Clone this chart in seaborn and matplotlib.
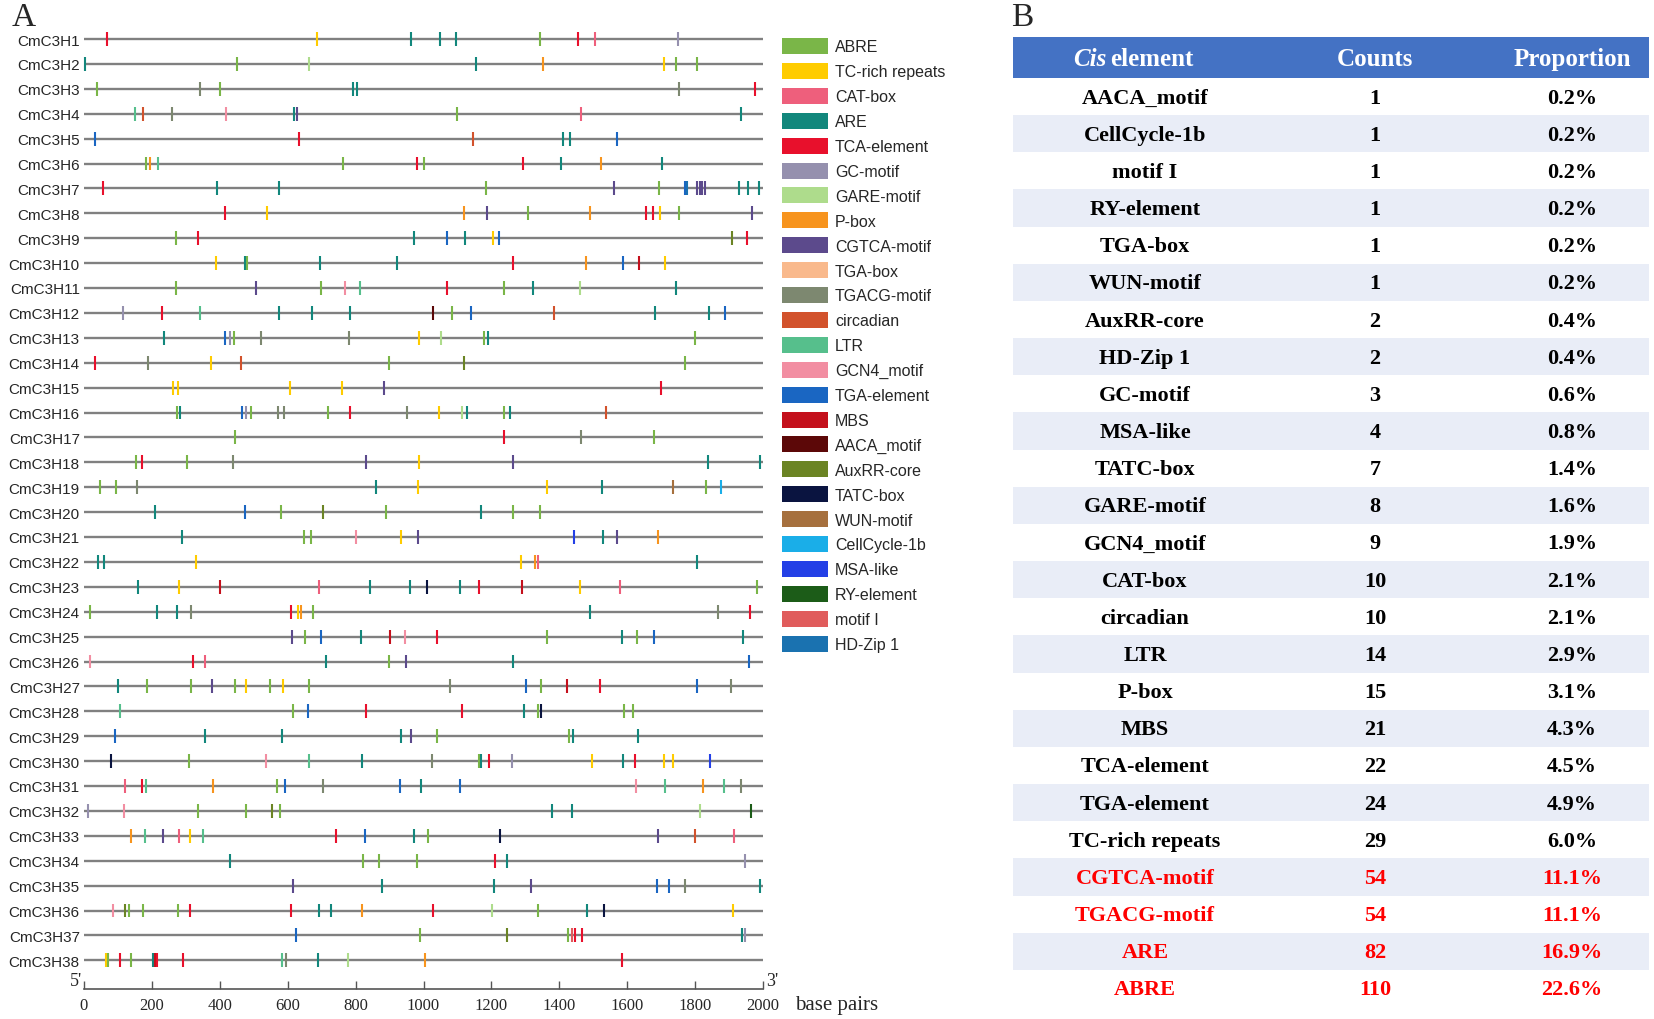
import matplotlib
matplotlib.use("Agg")
import matplotlib.pyplot as plt
from matplotlib.patches import Rectangle
import seaborn as sns
import pandas as pd

# ---------------- data ----------------
genes = [f"CmC3H{i}" for i in range(1, 39)]

H1 = [(69,'TCA'),(685,'TC'),(963,'ARE'),(1049,'ARE'),(1095,'ARE'),(1343,'AB'),(1456,'TCA'),(1505,'CAT'),(1751,'GC')]
H2 = [(3,'ARE'),(450,'AB'),(664,'GARE'),(1155,'ARE'),(1353,'PB'),(1707,'TC'),(1744,'AB'),(1805,'AB')]
H3 = [(37,'AB'),(341,'TG'),(400,'AB'),(793,'ARE'),(805,'ARE'),(1754,'TG'),(1975,'TCA')]
H4 = [(149,'LTR'),(173,'CIR'),(258,'TG'),(418,'GCN'),(619,'ARE'),(628,'CG'),(1098,'AB'),(1463,'CAT'),(1935,'ARE')]
H5 = [(32,'TGAe'),(633,'TCA'),(1147,'CIR'),(1410,'ARE'),(1431,'ARE'),(1571,'TGAe')]
H6 = [(182,'AB'),(193,'PB'),(218,'LTR'),(764,'AB'),(982,'TCA'),(1001,'AB'),(1294,'TCA'),(1404,'ARE'),(1522,'PB'),(1703,'ARE')]
H7 = [(57,'TCA'),(391,'ARE'),(573,'ARE'),(1184,'AB'),(1562,'CG'),(1693,'AB'),(1770,'TGAe'),(1776,'HD'),(1805,'CG'),(1813,'CG'),(1821,'CG'),(1829,'CG'),(1928,'ARE'),(1955,'ARE'),(1988,'ARE')]
H8 = [(414,'TCA'),(538,'TC'),(1118,'PB'),(1186,'CG'),(1307,'AB'),(1490,'PB'),(1654,'TCA'),(1675,'TCA'),(1697,'TC'),(1753,'AB'),(1968,'CG')]
H9 = [(272,'AB'),(335,'TCA'),(973,'ARE'),(1069,'TGAe'),(1122,'ARE'),(1206,'TC'),(1222,'TGAe'),(1910,'AUX'),(1953,'TCA')]
H10 = [(388,'TC'),(473,'ARE'),(480,'AB'),(696,'ARE'),(922,'ARE'),(1265,'TCA'),(1478,'PB'),(1589,'TGAe'),(1636,'MBS'),(1712,'TC')]
H11 = [(270,'AB'),(506,'CG'),(699,'AB'),(769,'GCN'),(813,'LTR'),(1068,'TCA'),(1237,'AB'),(1322,'ARE'),(1461,'GARE'),(1744,'ARE')]
H12 = [(114,'GC'),(231,'TCA'),(342,'LTR'),(573,'ARE'),(671,'ARE'),(784,'ARE'),(1029,'AACA'),(1083,'AB'),(1141,'TGAe'),(1384,'CIR'),(1682,'ARE'),(1840,'ARE'),(1889,'TGAe')]
H13 = [(236,'ARE'),(416,'TGAe'),(430,'GC'),(443,'AB'),(521,'TG'),(781,'TG'),(986,'TC'),(1052,'GARE'),(1177,'AB'),(1191,'ARE'),(1799,'AB')]
H14 = [(32,'TCA'),(188,'TG'),(373,'TC'),(461,'CIR'),(899,'AB'),(1119,'AUX'),(1771,'AB')]
H15 = [(261,'TC'),(278,'TC'),(606,'TC'),(759,'TC'),(885,'CG'),(1700,'TCA')]
H16 = [(275,'AB'),(284,'ARE'),(464,'TGAe'),(478,'GC'),(493,'AB'),(571,'TG'),(588,'TG'),(720,'AB'),(783,'TCA'),(951,'TG'),(1045,'TC'),(1112,'GARE'),(1127,'ARE'),(1238,'AB'),(1254,'ARE'),(1539,'CIR')]
H17 = [(445,'AB'),(1237,'TCA'),(1465,'TG'),(1678,'AB')]
H18 = [(153,'AB'),(170,'TCA'),(302,'AB'),(438,'TG'),(831,'CG'),(986,'TC'),(1265,'CG'),(1838,'ARE'),(1991,'ARE')]
H19 = [(46,'AB'),(93,'AB'),(157,'TG'),(859,'ARE'),(984,'TC'),(1365,'TC'),(1526,'ARE'),(1735,'WUN'),(1831,'AB'),(1875,'CC')]
H20 = [(210,'ARE'),(473,'TGAe'),(581,'AB'),(703,'AUX'),(890,'AB'),(1170,'ARE'),(1264,'AB'),(1343,'AB')]
H21 = [(289,'ARE'),(649,'AB'),(670,'AB'),(802,'GCN'),(934,'TC'),(984,'CG'),(1443,'MSA'),(1528,'ARE'),(1569,'CG'),(1692,'PB')]
H22 = [(40,'ARE'),(60,'ARE'),(331,'TC'),(1287,'TC'),(1327,'PB'),(1338,'CAT'),(1806,'ARE')]
H23 = [(158,'ARE'),(281,'TC'),(400,'MBS'),(692,'CAT'),(842,'ARE'),(959,'ARE'),(1011,'TATC'),(1108,'ARE'),(1163,'TCA'),(1290,'MBS'),(1462,'TC'),(1580,'CAT'),(1983,'AB')]
H24 = [(19,'AB'),(215,'ARE'),(275,'ARE'),(314,'TG'),(609,'TCA'),(630,'TC'),(638,'PB'),(674,'AB'),(1489,'ARE'),(1867,'TG'),(1962,'TCA')]
H25 = [(614,'CG'),(652,'AB'),(698,'TGAe'),(817,'ARE'),(901,'MBS'),(945,'GCN'),(1039,'TCA'),(1364,'AB'),(1585,'ARE'),(1628,'AB'),(1679,'TGAe'),(1940,'ARE')]
H26 = [(19,'GCN'),(321,'TCA'),(356,'CAT'),(714,'ARE'),(898,'AB'),(948,'CG'),(1264,'ARE'),(1960,'TGAe')]
H27 = [(99,'ARE'),(186,'AB'),(316,'AB'),(378,'CG'),(446,'AB'),(478,'TC'),(548,'AB'),(587,'TC'),(664,'AB'),(1077,'TG'),(1301,'TGAe'),(1347,'AB'),(1424,'MBS'),(1521,'TCA'),(1805,'TGAe'),(1906,'TG')]
H28 = [(105,'LTR'),(617,'AB'),(659,'TGAe'),(830,'TCA'),(1114,'TCA'),(1295,'ARE'),(1336,'AB'),(1346,'TATC'),(1590,'AB'),(1617,'AB')]
H29 = [(92,'TGAe'),(356,'ARE'),(584,'ARE'),(934,'ARE'),(963,'CG'),(1039,'AB'),(1430,'AB'),(1439,'ARE'),(1633,'ARE')]
H30 = [(81,'TATC'),(310,'AB'),(535,'GCN'),(662,'LTR'),(818,'ARE'),(1026,'TG'),(1163,'AB'),(1170,'ARE'),(1194,'TCA'),(1260,'GC'),(1497,'TC'),(1587,'ARE'),(1623,'TCA'),(1708,'TC'),(1734,'TC'),(1845,'MSA')]
H31 = [(122,'CAT'),(171,'TCA'),(183,'LTR'),(379,'PB'),(568,'AB'),(593,'TGAe'),(704,'TG'),(932,'TGAe'),(994,'ARE'),(1107,'TGAe'),(1626,'GCN'),(1710,'LTR'),(1823,'PB'),(1886,'LTR'),(1934,'TG')]
H32 = [(11,'GC'),(119,'GCN'),(335,'AB'),(477,'AB'),(555,'AUX'),(578,'AB'),(1378,'ARE'),(1436,'ARE'),(1814,'GARE'),(1966,'RY')]
H33 = [(138,'PB'),(180,'LTR'),(232,'CG'),(280,'CAT'),(311,'TC'),(350,'LTR'),(743,'TCA'),(827,'TGAe'),(973,'ARE'),(1014,'AB'),(1226,'TATC'),(1690,'CG'),(1800,'CIR'),(1915,'CAT')]
H34 = [(430,'ARE'),(823,'AB'),(869,'AB'),(981,'AB'),(1212,'TCA'),(1245,'ARE'),(1946,'GC')]
H35 = [(615,'CG'),(878,'ARE'),(1209,'ARE'),(1317,'CG'),(1687,'TGAe'),(1722,'TGAe'),(1769,'TG'),(1990,'ARE')]
H36 = [(84,'GCN'),(122,'AUX'),(132,'AB'),(173,'AB'),(277,'AB'),(311,'TCA'),(609,'TCA'),(693,'ARE'),(729,'ARE'),(818,'PB'),(1029,'TCA'),(1203,'GARE'),(1336,'AB'),(1483,'ARE'),(1531,'TATC'),(1912,'TC')]
H37 = [(623,'TGAe'),(991,'AB'),(1247,'AUX'),(1426,'AB'),(1438,'MI'),(1447,'TCA'),(1466,'TCA'),(1937,'ARE'),(1946,'GC')]
H38 = [(64,'TC'),(70,'AB'),(107,'TCA'),(139,'AB'),(203,'ARE'),(209,'MBS'),(215,'TCA'),(292,'TCA'),(584,'LTR'),(595,'TG'),(689,'ARE'),(777,'GARE'),(1005,'PB'),(1585,'TCA')]

gene_sites = [H1, H2, H3, H4, H5, H6, H7, H8, H9, H10, H11, H12, H13, H14, H15, H16, H17, H18, H19,
              H20, H21, H22, H23, H24, H25, H26, H27, H28, H29, H30, H31, H32, H33, H34, H35, H36, H37, H38]

legend_codes = ['AB','TC','CAT','ARE','TCA','GC','GARE','PB','CG','TGAb','TG','CIR','LTR','GCN',
                'TGAe','MBS','AACA','AUX','TATC','WUN','CC','MSA','RY','MI','HD']
legend_names = ['ABRE','TC-rich repeats','CAT-box','ARE','TCA-element','GC-motif','GARE-motif','P-box',
                'CGTCA-motif','TGA-box','TGACG-motif','circadian','LTR','GCN4_motif','TGA-element','MBS',
                'AACA_motif','AuxRR-core','TATC-box','WUN-motif','CellCycle-1b','MSA-like','RY-element',
                'motif I','HD-Zip 1']
legend_colors = ['#7ab648','#ffcc00','#ee5f7c','#12877c','#e8102c','#9590ae','#aedc8c','#f7941e',
                 '#5c4a8c','#f9b98c','#7d8870','#d2522c','#56bf8c','#f28ea2','#1a66c2','#c4101c',
                 '#5c0808','#6b8424','#0a1440','#a6703e','#1aaee8','#2440e6','#1c5c18','#e05c5c','#1a72b0']

table_elements = ['AACA_motif','CellCycle-1b','motif I','RY-element','TGA-box','WUN-motif','AuxRR-core',
                  'HD-Zip 1','GC-motif','MSA-like','TATC-box','GARE-motif','GCN4_motif','CAT-box',
                  'circadian','LTR','P-box','MBS','TCA-element','TGA-element','TC-rich repeats',
                  'CGTCA-motif','TGACG-motif','ARE','ABRE']
table_counts = [1,1,1,1,1,1,2,2,3,4,7,8,9,10,10,14,15,21,22,24,29,54,54,82,110]
table_props = ['0.2%','0.2%','0.2%','0.2%','0.2%','0.2%','0.4%','0.4%','0.6%','0.8%','1.4%','1.6%',
               '1.9%','2.1%','2.1%','2.9%','3.1%','4.3%','4.5%','4.9%','6.0%','11.1%','11.1%','16.9%','22.6%']
highlight = ['CGTCA-motif','TGACG-motif','ARE','ABRE']

# ---------------- build frame ----------------
rows = []
for gi, sites in enumerate(gene_sites):
    for pos, code in sites:
        rows.append({'gene': genes[gi], 'row': gi + 1, 'pos': pos, 'element': code})
df = pd.DataFrame(rows)
palette = dict(zip(legend_codes, legend_colors))

# ---------------- figure ----------------
sns.set_theme(style="white")
plt.rcParams['font.family'] = ['Liberation Sans', 'DejaVu Sans']

W, H = 1654, 1020
fig = plt.figure(figsize=(W / 100, H / 100), dpi=100)


def fx(px):
    return px / W


def fy(py):
    return 1 - py / H


x0_px, x1_px = 84, 763
row1_px, rowstep = 40, 24.9
axis_px = 990
top_px = row1_px - rowstep / 2
ax = fig.add_axes([fx(x0_px), fy(axis_px), fx(x1_px) - fx(x0_px), fy(top_px) - fy(axis_px)])
ybottom = 1 + (axis_px - row1_px) / rowstep

ax.hlines(range(1, 39), 0, 2000, color='#808080', lw=1.7, zorder=1)
sns.scatterplot(data=df, x='pos', y='row', hue='element', palette=palette, marker='|',
                s=100, linewidth=1.5, legend=False, ax=ax, zorder=3, clip_on=False)
ax.set_xlim(0, 2000)
ax.set_ylim(ybottom, 0.5)
ax.set_xlabel('')
ax.set_ylabel('')
ax.set_yticks(range(1, 39))
ax.set_yticklabels(genes, fontsize=11, family=['Liberation Sans', 'DejaVu Sans'])
ax.tick_params(axis='y', length=0, pad=3)
serif = ['Liberation Serif', 'DejaVu Serif']
ax.set_xticks(range(0, 2001, 200))
ax.set_xticklabels([str(v) for v in range(0, 2001, 200)], fontsize=12, family=serif)
ax.tick_params(axis='x', length=6, width=1, direction='in', pad=6, color='#555555', bottom=True)
for s in ['top', 'right', 'left']:
    ax.spines[s].set_visible(False)
ax.spines['bottom'].set_color('#555555')
ax.spines['bottom'].set_linewidth(1.2)
ax.grid(False)

# overlay axes in pixel coordinates
ov = fig.add_axes([0, 0, 1, 1])
ov.set_xlim(0, W)
ov.set_ylim(H, 0)
ov.axis('off')
ov.patch.set_visible(False)

ov.text(12, 18, 'A', fontsize=24, family=serif, va='center', ha='left')
ov.text(1011, 18, 'B', fontsize=24, family=serif, va='center', ha='left')
ov.text(76, 982, "5'", fontsize=13, family=serif, va='center', ha='center')
ov.text(772, 982, "3'", fontsize=13, family=serif, va='center', ha='center')
ov.text(795, 1006, 'base pairs', fontsize=15, family=serif, va='center', ha='left')

# legend
leg_y0, leg_step = 47, 24.9
for i, (name, col) in enumerate(zip(legend_names, legend_colors)):
    y = leg_y0 + i * leg_step
    ov.add_patch(Rectangle((782, y - 8), 46, 16, facecolor=col, edgecolor='none'))
    ov.text(835, y + 1, name, fontsize=11.5, va='center', ha='left',
            family=['Liberation Sans', 'DejaVu Sans'])

# table
tx0, tx1 = 1013, 1649
hdr_top, hdr_bot = 38, 79
rstep = 37.16
ov.add_patch(Rectangle((tx0, hdr_top), tx1 - tx0, hdr_bot - hdr_top, facecolor='#4472c4', edgecolor='none'))
cx = [1145, 1375, 1572]
hy = (hdr_top + hdr_bot) / 2 + 1
ov.text(cx[0] - 72, hy, 'Cis', fontsize=18, fontweight='bold', fontstyle='italic', color='white',
        family=serif, va='center', ha='left')
ov.text(cx[0] - 35, hy, 'element', fontsize=18, fontweight='bold', color='white',
        family=serif, va='center', ha='left')
ov.text(cx[1], hy, 'Counts', fontsize=18, fontweight='bold', color='white', family=serif,
        va='center', ha='center')
ov.text(cx[2], hy, 'Proportion', fontsize=18, fontweight='bold', color='white', family=serif,
        va='center', ha='center')
for i, (el, c, p) in enumerate(zip(table_elements, table_counts, table_props)):
    top = hdr_bot + i * rstep
    if i % 2 == 1:
        ov.add_patch(Rectangle((tx0, top), tx1 - tx0, rstep, facecolor='#e9edf7', edgecolor='none'))
    yc = top + rstep / 2 + 1
    col = '#ff0000' if el in highlight else 'black'
    ov.text(cx[0], yc, el, fontsize=16, fontweight='bold', color=col, family=serif, va='center', ha='center')
    ov.text(cx[1], yc, str(c), fontsize=16, fontweight='bold', color=col, family=serif, va='center', ha='center')
    ov.text(cx[2], yc, p, fontsize=16, fontweight='bold', color=col, family=serif, va='center', ha='center')

fig.savefig('out.png', dpi=100)
